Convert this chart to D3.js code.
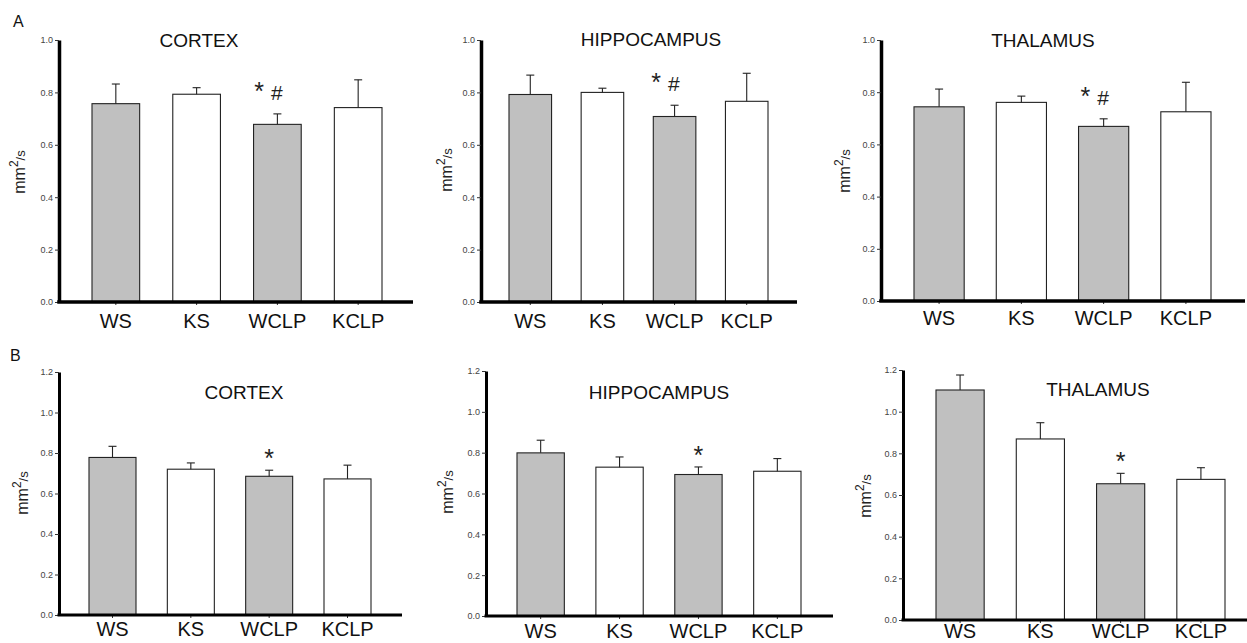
<!DOCTYPE html>
<html>
<head>
<meta charset="utf-8">
<script src="https://cdn.jsdelivr.net/npm/d3@7"></script>
<style>
  body { margin: 0; background: #fff; }
  svg { display: block; font-family: Arial, "Liberation Sans", sans-serif; }
</style>
</head>
<body>
<div id="chart"></div>
<script>
// data
var categories = ["WS", "KS", "WCLP", "KCLP"];
var regions = ["CORTEX", "HIPPOCAMPUS", "THALAMUS"];
var barFills = ["#c0c0c0", "#ffffff", "#c0c0c0", "#ffffff"];

// row A: mean and SEM per region (cortex, hippocampus, thalamus)
var meansA = [
  [0.757, 0.793, 0.678, 0.742],
  [0.792, 0.800, 0.708, 0.766],
  [0.744, 0.761, 0.669, 0.725]
];
var errorsA = [
  [0.075, 0.025, 0.040, 0.106],
  [0.074, 0.016, 0.043, 0.107],
  [0.068, 0.024, 0.029, 0.113]
];
// row B
var meansB = [
  [0.778, 0.720, 0.685, 0.672],
  [0.799, 0.729, 0.693, 0.709],
  [1.104, 0.869, 0.654, 0.675]
];
var errorsB = [
  [0.055, 0.031, 0.030, 0.068],
  [0.062, 0.050, 0.037, 0.062],
  [0.072, 0.078, 0.050, 0.056]
];
// significance marks per bar: [star, hash]
var marksA = [[], [], ["*", "#"], []];
var marksB = [[], [], ["*"], []];
var ticksA = [0.0, 0.2, 0.4, 0.6, 0.8, 1.0];
var ticksB = [0.0, 0.2, 0.4, 0.6, 0.8, 1.0, 1.2];

var width = 1247, height = 643;
var svg = d3.select('#chart').append('svg')
  .attr('width', width)
  .attr('height', height);

// panel placement (pixels); b0/b1 = left edge of first bar, right edge of last bar
var layoutA = [
  { ax: 59,  b0: 92,  b1: 382,  pad: 0.41, end: 413,  top: 40, bottom: 302, titleX: 199,  titleY: 47, labelY: 328, ylabX: 25,  ylabY: 172 },
  { ax: 481, b0: 509, b1: 768,  pad: 0.41, end: 797,  top: 40, bottom: 302, titleX: 651,  titleY: 46, labelY: 328, ylabX: 452, ylabY: 170 },
  { ax: 881, b0: 914, b1: 1211, pad: 0.39, end: 1245, top: 40, bottom: 301, titleX: 1043, titleY: 47, labelY: 325, ylabX: 850, ylabY: 171 }
];
var layoutB = [
  { ax: 59,  b0: 89,  b1: 371,  pad: 0.40, end: 402,  top: 372, bottom: 615, titleX: 244,  titleY: 399, labelY: 636, ylabX: 28,  ylabY: 493 },
  { ax: 486, b0: 517, b1: 801,  pad: 0.40, end: 833,  top: 371, bottom: 616, titleX: 659,  titleY: 399, labelY: 638, ylabX: 453, ylabY: 492 },
  { ax: 903, b0: 936, b1: 1225, pad: 0.40, end: 1260, top: 370, bottom: 620, titleX: 1098, titleY: 396, labelY: 638, ylabX: 871, ylabY: 496 }
];

function drawPanel(L, title, means, errors, marks, ticks, maxY, axisW) {
  var g = svg.append('g');
  var x = d3.scaleBand().domain(categories).range([L.b0, L.b1]).paddingInner(L.pad).paddingOuter(0);
  var y = d3.scaleLinear().domain([0, maxY]).range([L.bottom, L.top]);

  // bars
  g.selectAll('rect.bar')
    .data(means)
    .enter()
    .append('rect')
    .attr('class', 'bar')
    .attr('x', function(d, i) { return x(categories[i]); })
    .attr('y', function(d) { return y(d); })
    .attr('width', x.bandwidth())
    .attr('height', function(d) { return y(0) - y(d); })
    .attr('fill', function(d, i) { return barFills[i]; })
    .attr('stroke', '#222')
    .attr('stroke-width', 1.1);

  // upper error bars
  var cx = function(i) { return x(categories[i]) + x.bandwidth() / 2; };
  means.forEach(function(m, i) {
    var top = y(m + errors[i]);
    g.append('line')
      .attr('x1', cx(i)).attr('x2', cx(i))
      .attr('y1', y(m)).attr('y2', top)
      .attr('stroke', '#222').attr('stroke-width', 1.1);
    g.append('line')
      .attr('x1', cx(i) - 4).attr('x2', cx(i) + 4)
      .attr('y1', top).attr('y2', top)
      .attr('stroke', '#222').attr('stroke-width', 1.1);
    // significance marks
    var mk = marks[i];
    if (mk.length) {
      var t = g.append('text')
        .attr('x', cx(i) - (mk.length > 1 ? 9 : 0))
        .attr('y', top - (mk.length > 1 ? 14 : 3))
        .attr('text-anchor', 'middle')
        .style('fill', '#222');
      t.append('tspan').style('font-size', '25px').text(mk[0]);
      if (mk.length > 1) {
        t.append('tspan').style('font-size', '21px').attr('dx', 7).text(mk[1]);
      }
    }
  });

  // y axis
  var yAxis = d3.axisLeft(y).tickValues(ticks).tickSize(4).tickSizeOuter(0)
    .tickFormat(d3.format('.1f'));
  var ya = g.append('g').attr('transform', 'translate(' + L.ax + ',0)').call(yAxis);
  ya.select('.domain').attr('stroke', '#000').attr('stroke-width', axisW);
  ya.selectAll('.tick line').attr('stroke', '#333');
  ya.selectAll('.tick text').style('font-size', '9px').style('fill', '#444')
    .style('font-family', 'Arial, "Liberation Sans", sans-serif').attr('x', -6);

  // x axis
  var xAxis = d3.axisBottom(x).tickSize(3).tickSizeOuter(0);
  var xa = g.append('g').attr('transform', 'translate(0,' + L.bottom + ')').call(xAxis);
  xa.select('.domain').remove();
  xa.selectAll('.tick line').attr('stroke', '#333');
  xa.selectAll('.tick text')
    .attr('y', L.labelY - L.bottom)
    .attr('dy', 0)
    .style('font-size', '20px')
    .style('fill', '#111')
    .style('font-family', 'Arial, "Liberation Sans", sans-serif');
  g.append('line')
    .attr('x1', L.ax - axisW / 2).attr('x2', L.end)
    .attr('y1', L.bottom).attr('y2', L.bottom)
    .attr('stroke', '#000').attr('stroke-width', axisW);

  // title
  g.append('text')
    .attr('x', L.titleX).attr('y', L.titleY)
    .attr('text-anchor', 'middle')
    .style('font-size', '19px')
    .style('fill', '#111')
    .text(title);

  // y label
  var yl = g.append('text')
    .attr('transform', 'translate(' + L.ylabX + ',' + L.ylabY + ') rotate(-90)')
    .attr('text-anchor', 'middle')
    .style('fill', '#222');
  yl.append('tspan').style('font-size', '16px').text('mm');
  yl.append('tspan').style('font-size', '12px').attr('dy', -7).text('2');
  yl.append('tspan').style('font-size', '13px').attr('dy', 7).text('/s');
}

regions.forEach(function(r, i) {
  drawPanel(layoutA[i], r, meansA[i], errorsA[i], marksA, ticksA, 1.0, 3.5);
  drawPanel(layoutB[i], r, meansB[i], errorsB[i], marksB, ticksB, 1.2, 3);
});

// panel letters
svg.append('text').attr('x', 13).attr('y', 27).style('font-size', '16px').style('fill', '#111').text('A');
svg.append('text').attr('x', 10).attr('y', 361).style('font-size', '16px').style('fill', '#111').text('B');
</script>
</body>
</html>
